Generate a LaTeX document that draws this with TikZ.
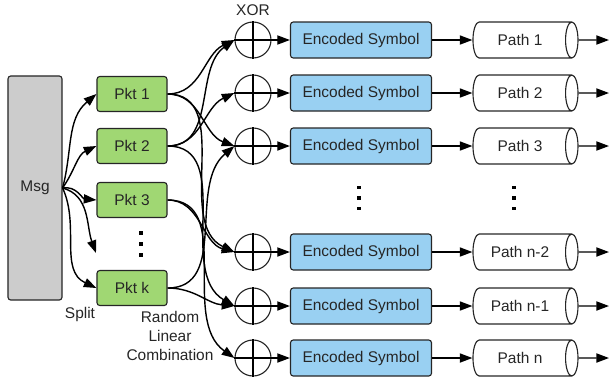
\documentclass[tikz,border=0pt]{standalone}
\usepackage{fontspec}
\setmainfont{Liberation Sans}
\usetikzlibrary{shapes.geometric}
\usetikzlibrary{arrows.meta}
\definecolor{msggray}{RGB}{204,204,204}
\definecolor{pktgreen}{RGB}{160,215,115}
\definecolor{symblue}{RGB}{153,208,242}

\begin{document}
\begin{tikzpicture}[x=0.025cm,y=-0.025cm,font=\fontsize{11}{13.5}\selectfont,
   every node/.style={line width=0.8pt,text=black!85},
   msgbox/.style={rectangle,rounded corners=2pt,draw=black!85,fill=msggray,
                  minimum width=1.35cm,minimum height=5.6cm},
   pktbox/.style={rectangle,rounded corners=2pt,draw=black!85,fill=pktgreen,
                  minimum width=1.75cm,minimum height=0.875cm},
   symbox/.style={rectangle,rounded corners=2pt,draw=black!85,fill=symblue,
                  minimum width=3.525cm,minimum height=0.9cm},
   xorgate/.style={circle,draw=black!85,fill=white,minimum size=0.9cm,inner sep=0pt},
   pathtube/.style={cylinder,shape border rotate=0,draw=black!85,aspect=0.6,
                  minimum height=2.625cm,minimum width=0.9cm},
   link/.style={-{Triangle[length=9pt,width=6.5pt]},line width=1pt,draw=black}]

 \useasboundingbox (0,0) rectangle (610,384);

 % message and the packets it is split into
 \draw (35,188) node[msgbox] (msg) {Msg};
 \draw (132,94)  node[pktbox] (pkt1) {Pkt 1};
 \draw (132,146) node[pktbox] (pkt2) {Pkt 2};
 \draw (132,200) node[pktbox] (pkt3) {Pkt 3};
 \draw (132,288) node[pktbox] (pktk) {Pkt k};
 \coordinate (pktdots) at (141,244);
 \coordinate (splitend) at (96,253);

 % xor gates
 \draw (253,40)  node[xorgate] (x1) {};
 \draw (253,93)  node[xorgate] (x2) {};
 \draw (253,146) node[xorgate] (x3) {};
 \draw (253,252) node[xorgate] (x4) {};
 \draw (253,306) node[xorgate] (x5) {};
 \draw (253,358) node[xorgate] (x6) {};

 % encoded symbols
 \draw (361,40)  node[symbox] (e1) {Encoded Symbol};
 \draw (361,93)  node[symbox] (e2) {Encoded Symbol};
 \draw (361,146) node[symbox] (e3) {Encoded Symbol};
 \draw (361,252) node[symbox] (e4) {Encoded Symbol};
 \draw (361,306) node[symbox] (e5) {Encoded Symbol};
 \draw (361,358) node[symbox] (e6) {Encoded Symbol};
 \coordinate (symdots) at (359,198);

 % paths
 \draw (520,40)  node[pathtube] (p1) {Path 1};
 \draw (520,93)  node[pathtube] (p2) {Path 2};
 \draw (520,146) node[pathtube] (p3) {Path 3};
 \draw (520,252) node[pathtube] (p4) {Path n-2};
 \draw (520,306) node[pathtube] (p5) {Path n-1};
 \draw (520,358) node[pathtube] (p6) {Path n};
 \coordinate (pathdots) at (514,198);
 \coordinate (o1) at (609,40);
 \coordinate (o2) at (609,93);
 \coordinate (o3) at (609,146);
 \coordinate (o4) at (609,252);
 \coordinate (o5) at (609,306);
 \coordinate (o6) at (609,358);

 % labels
 \node (xorlbl) at (253,10) {XOR};
 \node (splitlbl) at (80,314) {Split};
 \node[align=center] (rlclbl) at (170,336) {Random\\Linear\\Combination};

 % vertical dots
 \fill ([yshift=-11*0.711pt]pktdots) ++(-1.2pt,-1.2pt) rectangle ++(2.4pt,2.4pt);
 \fill (pktdots) ++(-1.2pt,-1.2pt) rectangle ++(2.4pt,2.4pt);
 \fill ([yshift=11*0.711pt]pktdots) ++(-1.2pt,-1.2pt) rectangle ++(2.4pt,2.4pt);
 \fill ([yshift=10.5*0.711pt]symdots) ++(-1.1pt,-1.1pt) rectangle ++(2.2pt,2.2pt);
 \fill (symdots) ++(-1.1pt,-1.1pt) rectangle ++(2.2pt,2.2pt);
 \fill ([yshift=-10.5*0.711pt]symdots) ++(-1.1pt,-1.1pt) rectangle ++(2.2pt,2.2pt);
 \fill ([yshift=10.5*0.711pt]pathdots) ++(-1.1pt,-1.1pt) rectangle ++(2.2pt,2.2pt);
 \fill (pathdots) ++(-1.1pt,-1.1pt) rectangle ++(2.2pt,2.2pt);
 \fill ([yshift=-10.5*0.711pt]pathdots) ++(-1.1pt,-1.1pt) rectangle ++(2.2pt,2.2pt);

 % split
 \draw[link] (msg.east) to[out=75,in=220] (pkt1.west);
 \draw[link] (msg.east) to[out=55,in=205] (pkt2.west);
 \draw[link] (msg.east) to[out=10,in=175] (pkt3.west);
 \draw[link] (msg.east) to[out=-15,in=110] (splitend);
 \draw[link] (msg.east) to[out=-65,in=155] (pktk.west);

 % random linear combination
 \draw[link] (pkt1.east) to[out=0,in=205] (x1.west);
 \draw[link] (pkt1.east) to[out=0,in=160] (x3.west);
 \draw[link] (pkt1.east) to[out=0,in=155] (x4.west);
 \draw[link] (pkt2.east) to[out=0,in=215] (x1.west);
 \draw[link] (pkt2.east) to[out=0,in=205] (x2.west);
 \draw[link] (pkt2.east) to[out=0,in=150] (x5.west);
 \draw[link] (pkt3.east) to[out=0,in=165] (x4.west);
 \draw[link] (pkt3.east) to[out=0,in=145] (x6.west);
 \draw[link] (pktk.east) to[out=0,in=220] (x3.west);
 \draw[link] (pktk.east) to[out=0,in=175] (x5.west);

 % xor crosses
 \draw[line width=0.8pt] (x1.north) -- (x1.south) (x1.west) -- (x1.east);
 \draw[line width=0.8pt] (x2.north) -- (x2.south) (x2.west) -- (x2.east);
 \draw[line width=0.8pt] (x3.north) -- (x3.south) (x3.west) -- (x3.east);
 \draw[line width=0.8pt] (x4.north) -- (x4.south) (x4.west) -- (x4.east);
 \draw[line width=0.8pt] (x5.north) -- (x5.south) (x5.west) -- (x5.east);
 \draw[line width=0.8pt] (x6.north) -- (x6.south) (x6.west) -- (x6.east);

 % xor to symbol to path
 \draw[link] (x1.east) -- (e1.west);
 \draw[link] (x2.east) -- (e2.west);
 \draw[link] (x3.east) -- (e3.west);
 \draw[link] (x4.east) -- (e4.west);
 \draw[link] (x5.east) -- (e5.west);
 \draw[link] (x6.east) -- (e6.west);
 \draw[link] (e1.east) -- (p1.west);
 \draw[link] (e2.east) -- (p2.west);
 \draw[link] (e3.east) -- (p3.west);
 \draw[link] (e4.east) -- (p4.west);
 \draw[link] (e5.east) -- (p5.west);
 \draw[link] (e6.east) -- (p6.west);
 \draw[link] (p1.east) -- (o1);
 \draw[link] (p2.east) -- (o2);
 \draw[link] (p3.east) -- (o3);
 \draw[link] (p4.east) -- (o4);
 \draw[link] (p5.east) -- (o5);
 \draw[link] (p6.east) -- (o6);

\end{tikzpicture}
\end{document}
